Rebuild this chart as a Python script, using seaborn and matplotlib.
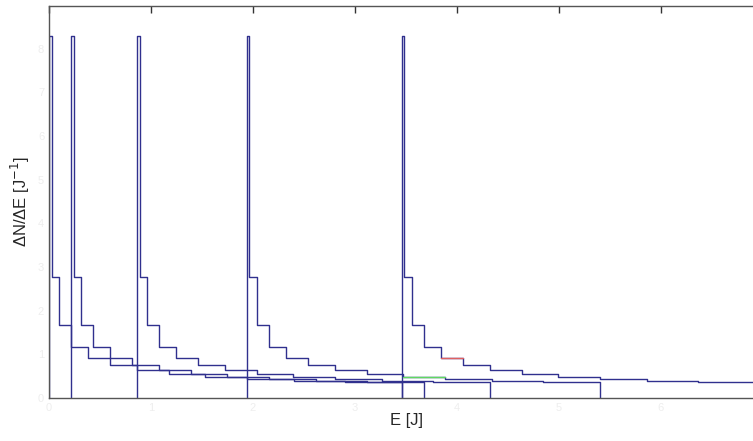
import numpy as np
import pandas as pd
import matplotlib
matplotlib.use("Agg")
import matplotlib.pyplot as plt
import seaborn as sns

# start energy of each histogram (x units, tick spacing = 1)
offsets = [0.0, 0.216, 0.863, 1.94, 3.46]
# bin edges relative to the start of each histogram
edges = [0.0, 0.025, 0.098, 0.216, 0.38, 0.60, 0.863, 1.18, 1.53, 1.94, 2.40, 2.90, 3.46]
# dN/dE per bin (same shape for every histogram)
heights = [8.29, 2.77, 1.67, 1.17, 0.92, 0.76, 0.64, 0.56, 0.49, 0.44, 0.40, 0.36]
# highlighted bins: (histogram index, bin index, colour)
highlights = [(4, 4, "#e06060"), (3, 8, "#60d860")]

line_col = "#30308e"

sns.set_style("white")
plt.rcParams["font.family"] = ["Liberation Sans", "DejaVu Sans"]

fig = plt.figure(figsize=(7.53, 4.41), dpi=100)
ax = fig.add_axes([49 / 753, 43 / 441, 714 / 753, 392 / 441])

edges_arr = np.array(edges)
centers = (edges_arr[:-1] + edges_arr[1:]) / 2
eps = 1e-4
for off in offsets:
    df = pd.DataFrame({"E": off + centers, "w": heights})
    # empty bins on both sides so the outline drops to the baseline
    bins = [off - eps] + [off + e for e in edges] + [off + edges[-1] + eps]
    sns.histplot(data=df, x="E", weights="w", bins=bins,
                 element="step", fill=False, color=line_col, linewidth=1,
                 stat="count", ax=ax)

for s, b, c in highlights:
    seg = pd.DataFrame({"E": [offsets[s] + edges[b], offsets[s] + edges[b + 1]],
                        "h": [heights[b], heights[b]]})
    sns.lineplot(data=seg, x="E", y="h", color=c, linewidth=1, ax=ax)

ax.set_xlim(0, 7)
ax.set_ylim(0, 8.98)
ax.set_xticks(range(0, 7))
ax.set_yticks(range(0, 9))
ax.tick_params(direction="in", length=5, width=1, color="#333333",
               labelcolor="#eeeeee", labelsize=8, top=True, right=True)
for sp in ax.spines.values():
    sp.set_color("#555555")
    sp.set_linewidth(1)

ax.set_xlabel("E [J]", fontsize=12, labelpad=0)
ax.set_ylabel("ΔN/ΔE [J$^{-1}$]", fontsize=12, labelpad=4)

fig.savefig("out.png", dpi=100)
